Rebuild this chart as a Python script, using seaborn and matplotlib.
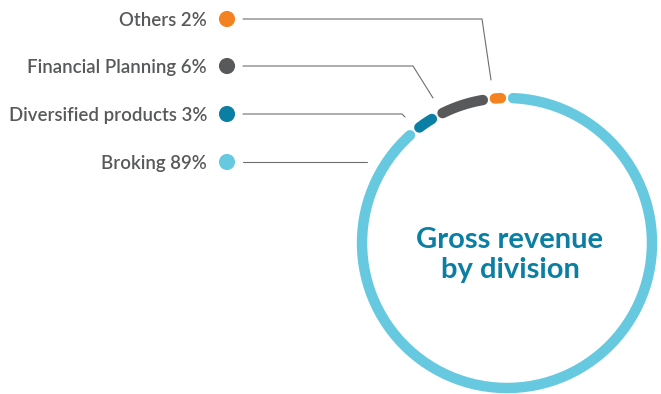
import numpy as np
import pandas as pd
import matplotlib
matplotlib.use("Agg")
import matplotlib.pyplot as plt
import seaborn as sns

# ---- data ----
categories = ["Broking", "Diversified products", "Financial Planning", "Others"]
shares = [89, 3, 6, 2]
colors = ["#66c9df", "#0a7fa3", "#58595b", "#f58220"]
center_title = "Gross revenue\nby division"

# ---- layout (pixel space) ----
W, H = 661, 394
CX, CY, R = 507, 243, 145
GAP_DEG = 2.4          # half-gap incl. round cap, degrees
RING_LW = 7.5
label_x, dot_x = 207, 227
row_y = {"Others": 19, "Financial Planning": 66, "Diversified products": 114, "Broking": 162}
line_start_x = 243
# leader lines: elbow x, end point (x, y)
leaders = {
    "Others": [(482, 19), (491, 80)],
    "Financial Planning": [(413, 66), (433, 98)],
    "Diversified products": [(402, 114), (405, 117)],
    "Broking": [(367, 162)],
}

sns.set_theme(style="white")
plt.rcParams["font.family"] = ["Lato", "DejaVu Sans"]

fig = plt.figure(figsize=(W / 100, H / 100), dpi=100)
ax = fig.add_axes([0, 0, 1, 1])
ax.set_xlim(0, W)
ax.set_ylim(H, 0)
ax.set_aspect("equal")
ax.axis("off")

# build arc points
rows = []
start = 0.0
for cat, s in zip(categories, shares):
    span = s / sum(shares) * 360.0
    a0, a1 = start + GAP_DEG, start + span - GAP_DEG
    th = np.radians(np.linspace(a0, a1, 200))
    for i, t in enumerate(th):
        rows.append({"segment": cat, "order": i,
                     "x": CX + R * np.sin(t), "y": CY - R * np.cos(t)})
    start += span
arc = pd.DataFrame(rows)

sns.lineplot(data=arc, x="x", y="y", hue="segment", palette=dict(zip(categories, colors)),
             hue_order=categories, sort=False, estimator=None, units="segment",
             linewidth=RING_LW, solid_capstyle="round", legend=False, ax=ax)

# legend dots
dots = pd.DataFrame({"segment": categories,
                     "x": [dot_x] * len(categories),
                     "y": [row_y[c] for c in categories]})
sns.scatterplot(data=dots, x="x", y="y", hue="segment", palette=dict(zip(categories, colors)),
                hue_order=categories, s=135, linewidth=0, legend=False, ax=ax)

for cat, s in zip(categories, shares):
    y = row_y[cat]
    ax.text(label_x, y, f"{cat} {s}%", ha="right", va="center_baseline",
            fontsize=13.4, fontweight="semibold", color="#58595b")
    pts = [(line_start_x, y)] + leaders[cat]
    xs, ys = zip(*pts)
    ax.plot(xs, ys, color="#6d6e70", linewidth=0.8)

ax.text(CX + 3, CY + 12, center_title, ha="center", va="center", fontsize=21,
        fontweight="bold", color="#0a7fa3", linespacing=1.22)

fig.savefig("out.png", dpi=100)
